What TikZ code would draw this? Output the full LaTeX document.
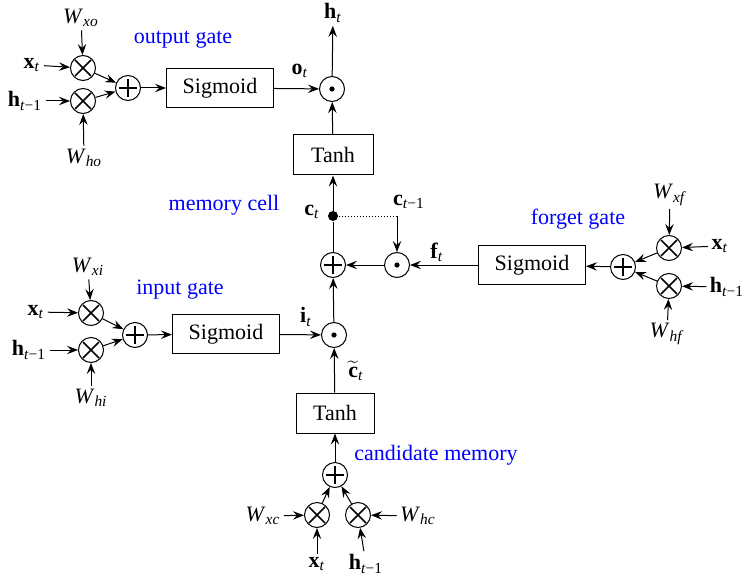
\documentclass[tikz,border=0pt]{standalone}
\usepackage{fontspec}
\setmainfont{Liberation Serif}
\usepackage{xcolor}
\usepackage{tikz}
\usetikzlibrary{arrows.meta}

\newcommand{\lblx}{\textbf{x}\textsubscript{\textit{t}}}
\newcommand{\lblh}{\textbf{h}\textsubscript{\textit{t}−1}}
\newcommand{\lblw}[1]{\textit{W}\textsubscript{\textit{#1}}}

\tikzset{
  op/.style={draw, circle, minimum size=12.5pt, inner sep=0pt},
  mult/.style={op, path picture={
      \draw[line width=0.75pt] ([shift={(-4pt,4pt)}]path picture bounding box.center) -- ([shift={(4pt,-4pt)}]path picture bounding box.center);
      \draw[line width=0.75pt] ([shift={(-4pt,-4pt)}]path picture bounding box.center) -- ([shift={(4pt,4pt)}]path picture bounding box.center);}},
  add/.style={op, path picture={
      \draw[line width=0.7pt] ([xshift=-4.5pt]path picture bounding box.center) -- ([xshift=4.5pt]path picture bounding box.center);
      \draw[line width=0.7pt] ([yshift=-4.5pt]path picture bounding box.center) -- ([yshift=4.5pt]path picture bounding box.center);}},
  had/.style={op, path picture={
      \fill (path picture bounding box.center) circle (1.3pt);}},
  blk/.style={draw, rectangle, minimum height=19.5pt},
  lbl/.style={inner sep=1.5pt},
  gate/.style={text=blue},
}

\begin{document}
\begin{tikzpicture}[x=0.5pt, y=-0.5pt, >={Stealth[length=5.5pt,width=4.2pt,inset=2pt]},
    line width=0.5pt, font=\fontsize{11}{13}\selectfont]
    \useasboundingbox (0,0) rectangle (748,577);

    % Nodes: output gate
    \node[lbl] (Wxo) at (81,18) {\lblw{xo}};
    \node[lbl] (xto) at (32,65) {\lblx};
    \node[lbl] (hto) at (25,101) {\lblh};
    \node[lbl] (Who) at (84,158) {\lblw{ho}};
    \node[mult] (mxo) at (83,68) {};
    \node[mult] (mho) at (83,101) {};
    \node[add] (so) at (128,88) {};
    \node[blk, minimum width=53.5pt] (sigo) at (220,88) {Sigmoid};
    \node[had] (po) at (332,89) {};
    \node[lbl] (ot) at (300,71) {\textbf{o}\textsubscript{\textit{t}}};
    \node[lbl] (ht) at (333,13) {\textbf{h}\textsubscript{\textit{t}}};
    \node[blk, minimum width=40pt, minimum height=20pt] (tanhc) at (333,155) {Tanh};
    \node[gate] (og) at (183,40) {output gate};

    % Nodes: memory cell
    \node[gate] (mc) at (224,205) {memory cell};
    \node[circle, fill, inner sep=0pt, minimum size=5pt] (ct) at (333,216) {};
    \node[lbl] (ctl) at (312,212) {\textbf{c}\textsubscript{\textit{t}}};
    \node[lbl] (cpl) at (409,202) {\textbf{c}\textsubscript{\textit{t}−1}};
    \coordinate (cc) at (397,216);
    \node[add] (sc) at (333,265) {};
    \node[had] (pf) at (397,265) {};
    \node[lbl] (ftl) at (437,252) {\textbf{f}\textsubscript{\textit{t}}};

    % Nodes: forget gate
    \node[blk, minimum width=53.5pt] (sigf) at (532,265) {Sigmoid};
    \node[add] (sf) at (623,267) {};
    \node[mult] (mxf) at (669,248) {};
    \node[mult] (mhf) at (669,286) {};
    \node[lbl] (Wxf) at (670,195) {\lblw{xf}};
    \node[lbl] (xtf) at (720,246) {\lblx};
    \node[lbl] (htf) at (727,287) {\lblh};
    \node[lbl] (Whf) at (667,334) {\lblw{hf}};
    \node[gate] (fg) at (578,219) {forget gate};

    % Nodes: input gate
    \node[lbl] (Wxi) at (88,267) {\lblw{xi}};
    \node[lbl] (xti) at (36,312) {\lblx};
    \node[lbl] (hti) at (29,350) {\lblh};
    \node[lbl] (Whi) at (91,398) {\lblw{hi}};
    \node[mult] (mxi) at (91,313) {};
    \node[mult] (mhi) at (91,350) {};
    \node[add] (si) at (135,335) {};
    \node[blk, minimum width=53.5pt] (sigi) at (226,334) {Sigmoid};
    \node[had] (pi) at (334,335) {};
    \node[lbl] (itl) at (306,317) {\textbf{i}\textsubscript{\textit{t}}};
    \node[lbl, inner sep=0pt] (cgl) at (356,371) {$\widetilde{\mbox{\textbf{c}}}$\textsubscript{\textit{t}}};
    \node[gate] (ig) at (180,290) {input gate};

    % Nodes: candidate memory
    \node[blk, minimum width=39pt, minimum height=20pt] (tanhg) at (335,413) {Tanh};
    \node[add] (sg) at (335,475) {};
    \node[mult] (mxc) at (317,515) {};
    \node[mult] (mhc) at (358,515) {};
    \node[lbl] (Wxc) at (263,516) {\lblw{xc}};
    \node[lbl] (Whc) at (418,516) {\lblw{hc}};
    \node[lbl] (xtc) at (317,564) {\lblx};
    \node[lbl] (htc) at (366,564) {\lblh};
    \node[gate] (cg) at (436,455) {candidate memory};

    % Edges: output gate
    \draw[->] (Wxo) -- (mxo);
    \draw[->] (xto) -- (mxo);
    \draw[->] (hto) -- (mho);
    \draw[->] (Who) -- (mho);
    \draw[->] (mxo) -- (so);
    \draw[->] (mho) -- (so);
    \draw[->] (so) -- (sigo);
    \draw[->] (sigo) -- (po);
    \draw[->] (tanhc) -- (po);
    \draw[->] (po) -- (ht);

    % Edges: memory cell
    \draw[->] (ct) -- (tanhc);
    \draw (sc) -- (ct);
    \draw[densely dotted] (ct) -- (cc);
    \draw[->] (cc) -- (pf);
    \draw[->] (pf) -- (sc);
    \draw[->] (sigf) -- (pf);

    % Edges: forget gate
    \draw[->] (Wxf) -- (mxf);
    \draw[->] (xtf) -- (mxf);
    \draw[->] (htf) -- (mhf);
    \draw[->] (Whf) -- (mhf);
    \draw[->] (mxf) -- (sf);
    \draw[->] (mhf) -- (sf);
    \draw[->] (sf) -- (sigf);

    % Edges: input gate
    \draw[->] (Wxi) -- (mxi);
    \draw[->] (xti) -- (mxi);
    \draw[->] (hti) -- (mhi);
    \draw[->] (Whi) -- (mhi);
    \draw[->] (mxi) -- (si);
    \draw[->] (mhi) -- (si);
    \draw[->] (si) -- (sigi);
    \draw[->] (sigi) -- (pi);
    \draw[->] (pi) -- (sc);

    % Edges: candidate memory
    \draw[->] (tanhg) -- (pi);
    \draw[->] (sg) -- (tanhg);
    \draw[->] (mxc) -- (sg);
    \draw[->] (mhc) -- (sg);
    \draw[->] (Wxc) -- (mxc);
    \draw[->] (Whc) -- (mhc);
    \draw[->] (xtc) -- (mxc);
    \draw[->] (htc) -- (mhc);
\end{tikzpicture}
\end{document}
